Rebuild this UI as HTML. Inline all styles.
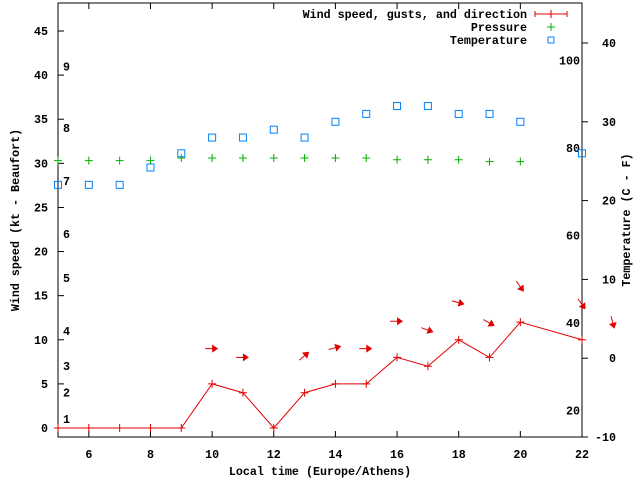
<!DOCTYPE html>
<html><head><meta charset="utf-8"><style>
body{margin:0;background:#fff}
svg text{font-family:"Liberation Mono",monospace;font-weight:bold;font-size:11.7px;fill:#000}
</style></head><body>
<svg id="chart" width="640" height="480" xmlns="http://www.w3.org/2000/svg">
<g id="g"></g>
</svg>
<script>
const hours=[5,6,7,8,9,10,11,12,13,14,15,16,17,18,19,20,22];
const windKt=[0,0,0,0,0,5,4,0,4,5,5,8,7,10,8,12,10];
const pressureHours=[5,6,7,8,9,10,11,12,13,14,15,16,17,18,19,20];
const pressureVals=[30.3,30.3,30.3,30.3,30.6,30.6,30.6,30.6,30.6,30.6,30.6,30.4,30.4,30.4,30.2,30.2];
const tempHours=[5,6,7,8,9,10,11,12,13,14,15,16,17,18,19,20,22];
const tempC=[22,22,22,24.2,26,28,28,29,28,30,31,32,32,31,31,30,26];
const gustHours=[10,11,13,14,15,16,17,18,19,20,22,23];
const gustKt=[9,8,8.2,9.1,9,12.1,11.1,14.2,11.9,16,14,11.9];
const gustDirDeg=[0,0,-40,-15,0,0,20,15,30,55,55,75];
const xTicks=[6,8,10,12,14,16,18,20,22];
const yTicks=[0,5,10,15,20,25,30,35,40,45];
const y2Ticks=[-10,0,10,20,30,40];
const beaufort=[1,2,3,4,5,6,7,8,9];
const beaufortKt=[1,4,7,11,17,22,28,34,41];
const fahr=[20,40,60,80,100];

const L=58,R=582,T=3,B=437;
const X=h=>L+(h-5)*(R-L)/17;
const Y=v=>428-v*397/45;
const Y2=c=>358.2-c*7.88;
const NS="http://www.w3.org/2000/svg";
const g=document.getElementById('g');
function el(t,a,txt){const e=document.createElementNS(NS,t);for(const k in a)e.setAttribute(k,a[k]);if(txt!==undefined)e.textContent=txt;g.appendChild(e);return e;}

// axes
let e=el('rect',{x:L,y:T,width:R-L,height:B-T,fill:'none',stroke:'#000','stroke-width':1});

xTicks.forEach(h=>{
 el('line',{x1:X(h),x2:X(h),y1:B,y2:B-6,stroke:'#000'});
 el('line',{x1:X(h),x2:X(h),y1:T,y2:T+6,stroke:'#000'});
 e=el('text',{x:X(h),y:B+21,'text-anchor':'middle'},h);
 
});
yTicks.forEach(v=>{
 el('line',{x1:L,x2:L+6,y1:Y(v),y2:Y(v),stroke:'#000'});
 e=el('text',{x:L-10,y:Y(v)+4,'text-anchor':'end'},v);
 
});
y2Ticks.forEach(v=>{
 el('line',{x1:R,x2:R+6,y1:Y2(v),y2:Y2(v),stroke:'#000'});
 e=el('text',{x:R+34,y:Y2(v)+4,'text-anchor':'end'},v);
 
});
beaufort.forEach((b,i)=>{
 e=el('text',{x:63,y:Y(beaufortKt[i])+4},b);
 
});
fahr.forEach(f=>{
 e=el('text',{x:580,y:Y2((f-32)*5/9)+4,'text-anchor':'end'},f);
 
});
e=el('text',{x:320,y:475,'text-anchor':'middle'},'Local time (Europe/Athens)');

e=el('text',{x:0,y:0,'text-anchor':'middle',transform:'translate(19,220) rotate(-90)'},'Wind speed (kt - Beaufort)');

e=el('text',{x:0,y:0,'text-anchor':'middle',transform:'translate(630,220) rotate(-90)'},'Temperature (C - F)');


// pressure
pressureHours.forEach((h,i)=>{
 const x=X(h),y=Y(pressureVals[i]);
 e=el('path',{d:`M${x-4},${y}h8M${x},${y-4}v8`,stroke:'#00b000','stroke-width':1});
 
});
// temperature
tempHours.forEach((h,i)=>{
 e=el('rect',{x:X(h)-3.5,y:Y2(tempC[i])-3.5,width:7,height:7,fill:'none',stroke:'#0080ff','stroke-width':1});
 
});
// wind line
e=el('polyline',{points:hours.map((h,i)=>X(h)+','+Y(windKt[i])).join(' '),fill:'none',stroke:'#e00000','stroke-width':1});

hours.forEach((h,i)=>{
 const x=X(h),y=Y(windKt[i]);
 e=el('path',{d:`M${x-4},${y}h8M${x},${y-4}v8`,stroke:'#e00000'});
 
});
// gust arrows
gustHours.forEach((h,i)=>{
 const x=X(h),y=Y(gustKt[i]);
 e=el('g',{transform:`translate(${x},${y}) rotate(${gustDirDeg[i]})`});
 
 const l=document.createElementNS(NS,'line');l.setAttribute('x1',-7);l.setAttribute('x2',4);l.setAttribute('y1',0);l.setAttribute('y2',0);l.setAttribute('stroke','#e00000');e.appendChild(l);
 const p=document.createElementNS(NS,'path');p.setAttribute('d','M6,0L0,-4L0,4Z');p.setAttribute('fill','#e00000');e.appendChild(p);
});
// legend
const lg=[['Wind speed, gusts, and direction',14],['Pressure',27],['Temperature',40]];
lg.forEach(([t,y])=>{e=el('text',{x:527,y:y+4,'text-anchor':'end'},t);});
el('path',{d:'M535,14h32M535,11v6M567,11v6M551,10v8',stroke:'#e00000'});
el('path',{d:'M547,27h8M551,23v8',stroke:'#00b000'});
el('rect',{x:548,y:37,width:6,height:6,fill:'none',stroke:'#0080ff'});
</script>
</body></html>
